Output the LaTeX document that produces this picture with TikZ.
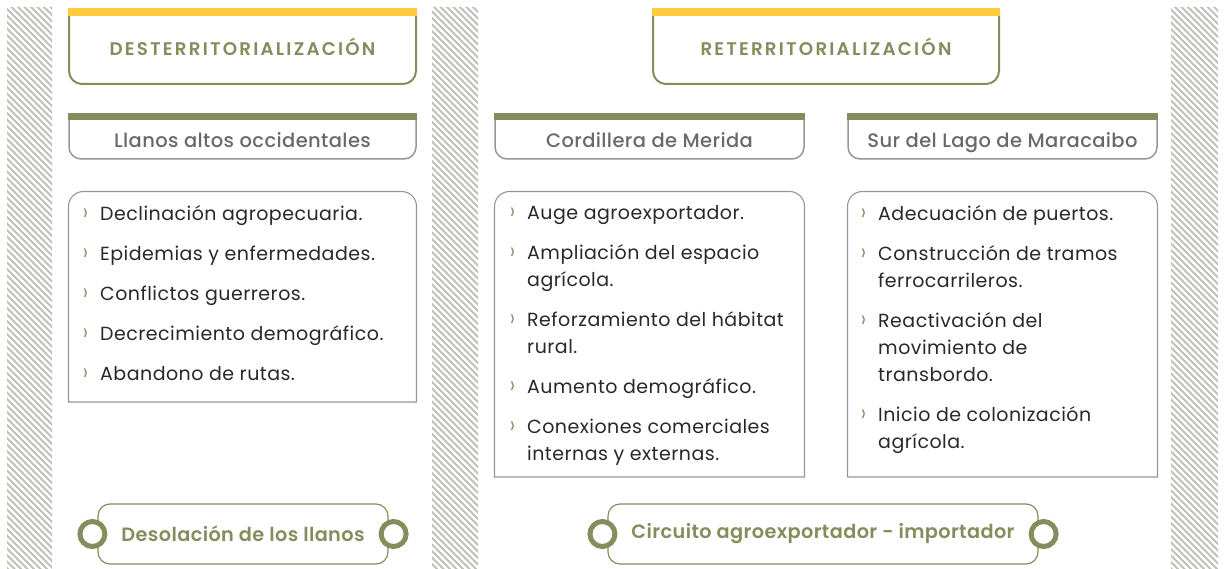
\documentclass[tikz,border=0pt]{standalone}
\usepackage{fontspec}
\setmainfont{Poppins}
\newfontfamily\headfont[LetterSpace=12]{Poppins SemiBold}
\newfontfamily\labelfont[LetterSpace=2]{Poppins Medium}
\newfontfamily\endfont[LetterSpace=2]{Poppins SemiBold}
\newfontfamily\listfont[LetterSpace=2.5]{Poppins}
\usetikzlibrary{positioning}
\definecolor{olivegreen}{RGB}{134,140,92}
\definecolor{sunyellow}{RGB}{255,203,60}
\definecolor{framegray}{RGB}{150,150,150}
\definecolor{labelgray}{RGB}{105,105,105}
\definecolor{textdark}{RGB}{40,40,40}
\definecolor{hatchgray}{RGB}{192,192,186}
\newcommand{\chev}{\makebox[17pt][l]{\textcolor{olivegreen}{\raisebox{-0.5pt}{\scalebox{0.9}[1.3]{›}}}}}
\newcommand{\cont}{\hspace*{17pt}}

\begin{document}
\begin{tikzpicture}[
    x=1pt, y=-1pt,
    hatch/.style={draw=hatchgray, line width=1.8pt},
    headframe/.style={draw=olivegreen, line width=2pt, rounded corners=13pt},
    subframe/.style={draw=framegray, line width=1.5pt, rounded corners=12pt},
    listframe/.style={draw=framegray, line width=1.1pt, rounded corners=15pt},
    headtext/.style={anchor=base, inner sep=0pt, text=olivegreen, font=\headfont\fontsize{18.3}{22}\selectfont},
    subtext/.style={anchor=base, inner sep=0pt, text=labelgray, font=\labelfont\fontsize{19.5}{24}\selectfont},
    listtext/.style={anchor=north west, inner sep=0pt, align=left, text=textdark, font=\listfont\fontsize{19}{27}\selectfont},
    endbox/.style={draw=olivegreen, line width=1.2pt, rounded corners=12pt, minimum height=60pt, text=olivegreen, font=\endfont\fontsize{19.3}{22}\selectfont},
    ring/.style={circle, draw=olivegreen, line width=5pt, fill=white, minimum size=25pt, inner sep=0pt}
  ]
  \useasboundingbox (0,0) rectangle (1225,569);

  % hatched bands
  \begin{scope}
    \clip (7,7) rectangle (52,569) (432,7) rectangle (478,569) (1171,7) rectangle (1218,569);
    \foreach \s in {-600,-593.5,...,1230}
      \draw[hatch] (\s,0) -- ++(600,600);
  \end{scope}

  % top headers
  \foreach \l/\r in {68/417, 652/1000} {
    \draw[headframe] (\l+1,14) -- (\l+1,84) -- (\r-1,84) -- (\r-1,14);
    \fill[sunyellow] (\l,8) rectangle (\r,16);
  }
  \node[headtext] (desterr) at (242.5,55.5) {DESTERRITORIALIZACIÓN};
  \node[headtext] (reterr) at (826,55.5) {RETERRITORIALIZACIÓN};

  % region headers
  \foreach \l/\r in {68/417, 494/805, 847/1158} {
    \draw[subframe] (\l+1,118) -- (\l+1,159) -- (\r-1,159) -- (\r-1,118);
    \fill[olivegreen] (\l,113) rectangle (\r,120);
  }
  \node[subtext] (llanos) at (242.5,148) {Llanos altos occidentales};
  \node[subtext] (merida) at (649.5,148) {Cordillera de Merida};
  \node[subtext] (lago) at (1002.5,148) {Sur del Lago de Maracaibo};

  % lists
  \foreach \l/\r/\b in {68/417/402, 494/805/477, 847/1158/477} {
    \draw[listframe] (\l+0.5,300) -- (\l+0.5,191.5) -- (\r-0.5,191.5) -- (\r-0.5,300)
      [sharp corners] -- (\r-0.5,\b) -- (\l+0.5,\b) -- cycle;
  }
  \node[listtext] (llanoslist) at (83,205) {%
    \chev Declinación agropecuaria.\\[13pt]
    \chev Epidemias y enfermedades.\\[13pt]
    \chev Conflictos guerreros.\\[13pt]
    \chev Decrecimiento demográfico.\\[13pt]
    \chev Abandono de rutas.};
  \node[listtext] (meridalist) at (510,205) {%
    \chev Auge agroexportador.\\[13pt]
    \chev Ampliación del espacio\\
    \cont agrícola.\\[13pt]
    \chev Reforzamiento del hábitat\\
    \cont rural.\\[13pt]
    \chev Aumento demográfico.\\[13pt]
    \chev Conexiones comerciales\\
    \cont internas y externas.};
  \node[listtext] (lagolist) at (861,205) {%
    \chev Adecuación de puertos.\\[13pt]
    \chev Construcción de tramos\\
    \cont ferrocarrileros.\\[13pt]
    \chev Reactivación del\\
    \cont movimiento de\\
    \cont transbordo.\\[13pt]
    \chev Inicio de colonización\\
    \cont agrícola.};

  % outcomes
  \node[endbox, minimum width=290pt] (desol) at (243,534) {Desolación de los llanos};
  \node[ring] (desolL) at ([xshift=-5pt]desol.west) {};
  \node[ring] (desolR) at ([xshift=5pt]desol.east) {};
  \node[endbox, minimum width=430pt] (circuito) at (823,534) {Circuito agroexportador - importador};
  \node[ring] (circuitoL) at ([xshift=-5pt]circuito.west) {};
  \node[ring] (circuitoR) at ([xshift=5pt]circuito.east) {};
\end{tikzpicture}
\end{document}
